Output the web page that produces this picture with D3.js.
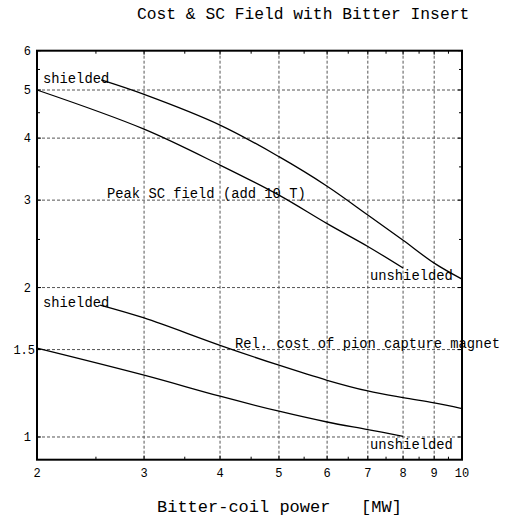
<!DOCTYPE html>
<html>
<head>
<meta charset="utf-8">
<script src="https://cdn.jsdelivr.net/npm/d3@7"></script>
<style>
  html, body { margin: 0; padding: 0; background: #fff; }
  svg { display: block; }
  text { font-family: "Liberation Mono", "DejaVu Sans Mono", monospace; fill: #000; }
</style>
</head>
<body>
<svg id="chart" width="527" height="519"></svg>
<script>
// ---- data ----
const power = [2, 3, 4, 5, 6, 7, 8, 9, 10];            // MW, x ticks
const xTickLabels = ["2", "3", "4", "5", "6", "7", "8", "9", "10"];
const yTicks = [1, 1.5, 2, 3, 4, 5, 6];
const yTickLabels = ["1", "1.5", "2", "3", "4", "5", "6"];
const xMinor = [2.5, 3.5, 4.5, 5.5, 6.5, 7.5, 8.5, 9.5];
const yMinor = [2.5, 3.5, 4.5, 5.5];
const xGrid = [3, 4, 5, 6, 7, 8, 9];
const yGrid = [1, 1.5, 2, 3, 4, 5];

// Peak SC field, shielded
const fieldShieldedP = [2.55, 3, 4, 5, 6, 7, 8, 9, 10];
const fieldShieldedV = [5.24, 4.90, 4.25, 3.67, 3.20, 2.80, 2.49, 2.24, 2.08];
// Peak SC field, unshielded
const fieldUnshieldedP = [2, 3, 4, 5, 6, 7, 8];
const fieldUnshieldedV = [5.0, 4.17, 3.53, 3.07, 2.69, 2.42, 2.19];
// Relative cost, shielded
const costShieldedP = [2.54, 3, 4, 5, 6, 7, 8, 9, 10];
const costShieldedV = [1.844, 1.737, 1.53, 1.395, 1.301, 1.238, 1.20, 1.171, 1.141];
// Relative cost, unshielded
const costUnshieldedP = [2, 3, 4, 5, 6, 7, 8];
const costUnshieldedV = [1.51, 1.332, 1.208, 1.127, 1.072, 1.035, 1.003];

const title = "Cost & SC Field with Bitter Insert";
const xTitle = "Bitter-coil power   [MW]";

// ---- layout ----
const svg = d3.select("#chart");
const x = d3.scaleLog().domain([2, 10]).range([37, 462]);
const y = d3.scaleLog().domain([0.9, 6]).range([459.7, 50.7]);
const [x0, x1] = x.range();
const [yb, yt] = y.range();

// grid
const g = svg.append("g");
g.selectAll(".vg").data(xGrid).join("line")
  .attr("x1", d => x(d)).attr("x2", d => x(d))
  .attr("y1", yt).attr("y2", yb)
  .attr("stroke", "#555").attr("stroke-width", 1).attr("stroke-dasharray", "3,2");
g.selectAll(".hg").data(yGrid).join("line")
  .attr("y1", d => y(d)).attr("y2", d => y(d))
  .attr("x1", x0).attr("x2", x1)
  .attr("stroke", "#555").attr("stroke-width", 1).attr("stroke-dasharray", "3,2");

// curves
const line = d3.line().x(d => x(d[0])).y(d => y(d[1])).curve(d3.curveCatmullRom.alpha(0.5));
const series = [
  [fieldShieldedP, fieldShieldedV],
  [fieldUnshieldedP, fieldUnshieldedV],
  [costShieldedP, costShieldedV],
  [costUnshieldedP, costUnshieldedV]
];
series.forEach(([p, v]) => {
  svg.append("path")
    .attr("d", line(p.map((d, i) => [d, v[i]])))
    .attr("fill", "none").attr("stroke", "#000").attr("stroke-width", 1.3);
});

// axes (ticks inward, no labels on top/right)
const tickLen = 4, minorLen = 3;
function ticks(group, vals, len) {
  vals.forEach(v => {
    group.append("line").attr("x1", x(v)).attr("x2", x(v)).attr("y1", yb).attr("y2", yb - len);
    group.append("line").attr("x1", x(v)).attr("x2", x(v)).attr("y1", yt).attr("y2", yt + len);
  });
}
function yticks(group, vals, len) {
  vals.forEach(v => {
    group.append("line").attr("y1", y(v)).attr("y2", y(v)).attr("x1", x0).attr("x2", x0 + len);
    group.append("line").attr("y1", y(v)).attr("y2", y(v)).attr("x1", x1).attr("x2", x1 - len);
  });
}
const tg = svg.append("g").attr("stroke", "#000").attr("stroke-width", 1);
ticks(tg, power, tickLen);
ticks(tg, xMinor, minorLen);
yticks(tg, yTicks, tickLen);
yticks(tg, yMinor, minorLen);

svg.append("rect")
  .attr("x", x0).attr("y", yt).attr("width", x1 - x0).attr("height", yb - yt)
  .attr("fill", "none").attr("stroke", "#000").attr("stroke-width", 2);

// tick labels
svg.append("g").selectAll("text").data(power).join("text")
  .attr("x", d => x(d)).attr("y", 477)
  .attr("text-anchor", "middle").attr("font-size", 12)
  .text((d, i) => xTickLabels[i]);
svg.append("g").selectAll("text").data(yTicks).join("text")
  .attr("x", (d, i) => yTickLabels[i].includes(".") ? 35 : 31)
  .attr("y", d => y(d)).attr("dy", "0.35em")
  .attr("text-anchor", "end").attr("font-size", 12)
  .text((d, i) => yTickLabels[i]);

// titles
svg.append("text").attr("x", 137).attr("y", 19).attr("font-size", 16.3).text(title);
svg.append("text").attr("x", 157).attr("y", 512).attr("font-size", 17)
  .attr("xml:space", "preserve").style("white-space", "pre").text(xTitle);

// annotations
const ann = [
  ["shielded", 43, 83],
  ["Peak SC field (add 10 T)", 107, 198],
  ["unshielded", 370, 280],
  ["shielded", 43, 307],
  ["Rel. cost of pion capture magnet", 235, 348],
  ["unshielded", 370, 449]
];
svg.append("g").selectAll("text").data(ann).join("text")
  .attr("x", d => d[1]).attr("y", d => d[2]).attr("font-size", 13.8)
  .text(d => d[0]);
</script>
</body>
</html>
